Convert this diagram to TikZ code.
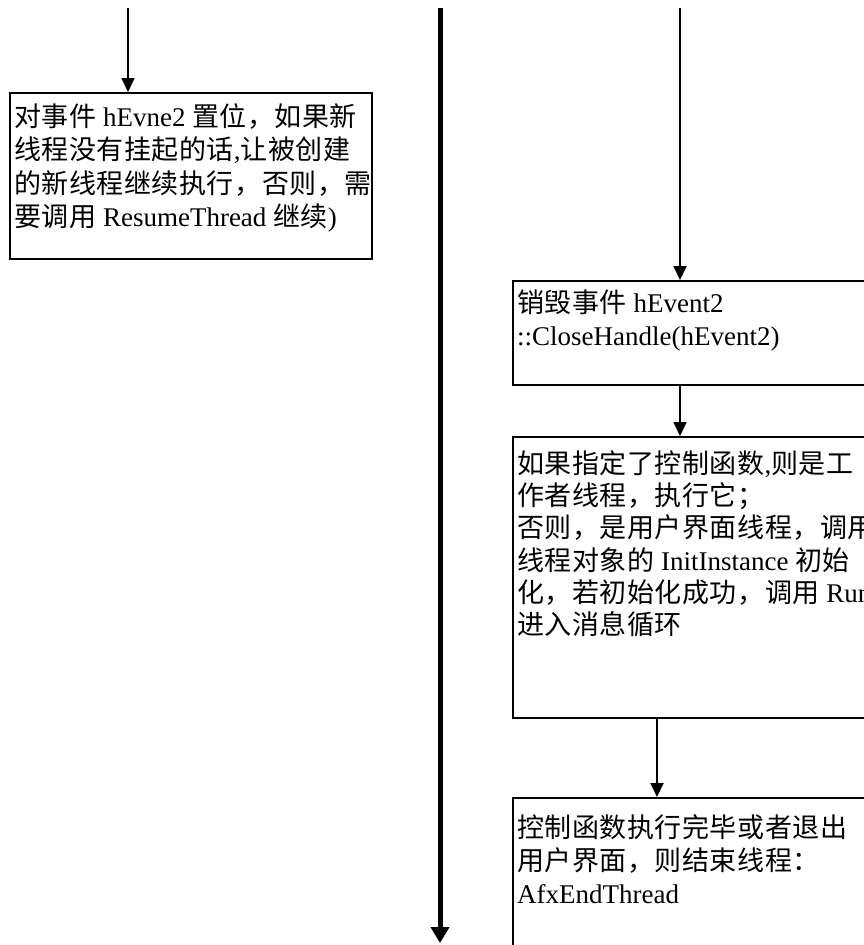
\documentclass[tikz,border=0pt]{standalone}
\usepackage{fontspec}
\setmainfont{Liberation Serif}
\newfontfamily\cjk[LetterSpace=2]{Noto Sans CJK SC}
\usetikzlibrary{arrows.meta}
\newcommand\zh[1]{{\cjk #1}}
\begin{document}
\begin{tikzpicture}[x=1pt,y=-1pt,
  box/.style={draw, line width=1.5pt, rectangle, inner sep=0pt, anchor=north west},
  txt/.style={anchor=north west, inner sep=0pt, align=left, font=\fontsize{27}{33.5}\selectfont},
  flow/.style={line width=1.8pt, -{Triangle[length=14pt,width=13pt]}},
  mainflow/.style={line width=5pt, -{Triangle[length=16pt,width=18pt]}}]
\useasboundingbox (0,0) rectangle (864,945);
\clip (0,0) rectangle (864,945);
% left column
\coordinate (a1) at (128,8);
\node[box, minimum width=362pt, minimum height=166pt] (b1) at (9,92) {};
\node[txt] (t1) at ([shift={(5,9)}]b1.north west) {\rule{0pt}{25pt}\zh{对事件} hEvne2 \zh{置位，如果新}\\
\zh{线程没有挂起的话},\zh{让被创建}\\
\zh{的新线程继续执行，否则，需}\\
\zh{要调用} ResumeThread \zh{继续})};
\draw[flow] (a1) -- (a1 |- b1.north);
% middle thick line
\coordinate (m1) at (440,8);
\coordinate (m2) at (440,943);
\draw[mainflow] (m1) -- (m2);
% right column
\coordinate (a2) at (680,8);
\node[box, minimum width=362pt, minimum height=104pt] (b2) at (512,280) {};
\node[txt] (t2) at ([shift={(5,7)}]b2.north west) {\rule{0pt}{25pt}\zh{销毁事件} hEvent2\\
::CloseHandle(hEvent2)};
\node[box, minimum width=362pt, minimum height=281pt] (b3) at (512,436) {};
\node[txt, font=\fontsize{27}{32.3}\selectfont] (t3) at ([shift={(5,12)}]b3.north west) {\rule{0pt}{25pt}\zh{如果指定了控制函数},\zh{则是工}\\
\zh{作者线程，执行它；}\\
\zh{否则，是用户界面线程，调用}\\
\zh{线程对象的} InitInstance \zh{初始}\\
\zh{化，若初始化成功，调用} Run\\
\zh{进入消息循环}};
\node[box, minimum width=362pt, minimum height=200pt] (b4) at (512,797) {};
\node[txt, font=\fontsize{27}{33}\selectfont] (t4) at ([shift={(5,15)}]b4.north west) {\rule{0pt}{25pt}\zh{控制函数执行完毕或者退出}\\
\zh{用户界面，则结束线程：}\\
AfxEndThread};
\draw[flow] (a2) -- (a2 |- b2.north);
\draw[flow] (b2.south -| a2) -- (a2 |- b3.north);
\draw[flow] ([xshift=145pt]b3.south west) -- ([xshift=145pt]b4.north west);
\end{tikzpicture}
\end{document}
